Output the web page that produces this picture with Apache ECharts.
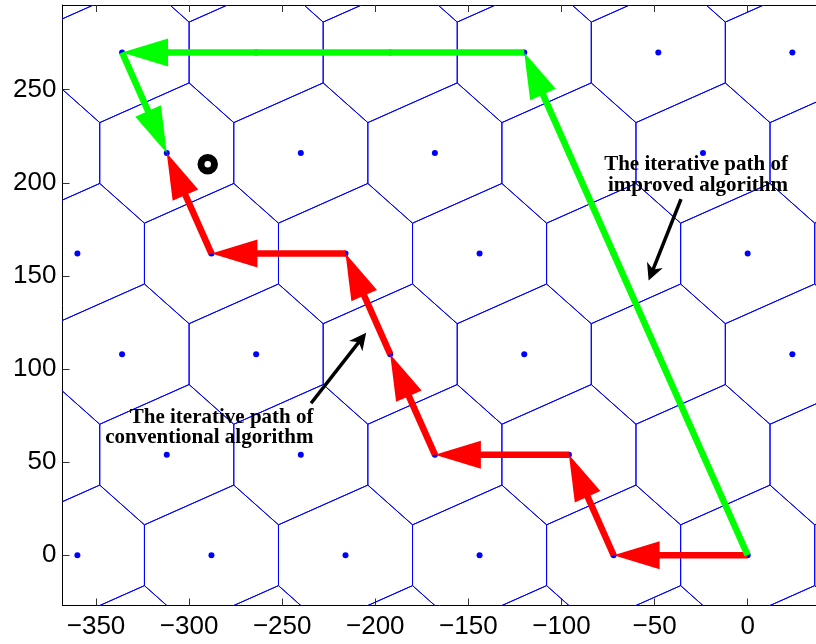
<!DOCTYPE html>
<html>
<head>
<meta charset="utf-8">
<script src="https://cdn.jsdelivr.net/npm/echarts@6/dist/echarts.min.js"></script>
<style>
  html, body { margin: 0; padding: 0; background: #fff; }
  #chart { width: 816px; height: 644px; }
</style>
</head>
<body>
<div id="chart"></div>
<script>
// Tick positions on the two axes
const xTicks = [-350, -300, -250, -200, -150, -100, -50, 0];
const yTicks = [0, 50, 100, 150, 200, 250];

// Lattice generator vectors (used to build the Voronoi cell of a site)
const basisA = [72, 0];
const basisB = [-24, 54];

// Lattice sites, one row per y level
const siteRowY = [-54, 0, 54, 108, 162, 216, 270, 324];
const siteRowX = [
  [-408, -336, -264, -192, -120, -48, 24, 96],
  [-432, -360, -288, -216, -144, -72, 0, 72],
  [-384, -312, -240, -168, -96, -24, 48],
  [-408, -336, -264, -192, -120, -48, 24, 96],
  [-432, -360, -288, -216, -144, -72, 0, 72],
  [-384, -312, -240, -168, -96, -24, 48],
  [-408, -336, -264, -192, -120, -48, 24, 96],
  [-432, -360, -288, -216, -144, -72, 0, 72]
];

// Iterative search paths
const conventionalX = [0, -72, -96, -168, -192, -216, -288, -312];
const conventionalY = [0, 0, 54, 54, 108, 162, 162, 216];
const improvedX = [0, -120, -336, -312];
const improvedY = [0, 270, 270, 216];

// Received (target) point
const targetX = [-290];
const targetY = [210];

// Annotations: text lines, anchor (right end of first baseline), pointer arrows
const noteLines = [
  ['The iterative path of', 'improved algorithm'],
  ['The iterative path of', 'conventional algorithm']
];
const noteAnchorX = [21.6, -233.2];
const noteAnchorY = [206.0, 70.3];
const pointerFromX = [-35.8, -234.5];
const pointerFromY = [191.2, 81.6];
const pointerToX = [-53.2, -204.9];
const pointerToY = [147.5, 119.5];

// ---- derived geometry ----
const sites = [];
siteRowY.forEach((y, r) => siteRowX[r].forEach(x => sites.push([x, y])));

// Voronoi cell of a lattice point: circumcentres of consecutive relevant neighbours
function voronoiCell(a, b) {
  const s = [a[0] + b[0], a[1] + b[1]];
  const nb = [a, s, b, [-a[0], -a[1]], [-s[0], -s[1]], [-b[0], -b[1]]];
  nb.sort((p, q) => Math.atan2(p[1], p[0]) - Math.atan2(q[1], q[0]));
  const verts = [];
  for (let k = 0; k < nb.length; k++) {
    const p = nb[k], q = nb[(k + 1) % nb.length];
    const hp = (p[0] * p[0] + p[1] * p[1]) / 2;
    const hq = (q[0] * q[0] + q[1] * q[1]) / 2;
    const det = p[0] * q[1] - p[1] * q[0];
    verts.push([(hp * q[1] - hq * p[1]) / det, (p[0] * hq - q[0] * hp) / det]);
  }
  return verts;
}
const cell = voronoiCell(basisA, basisB);

function segments(xs, ys) {
  const out = [];
  for (let i = 0; i + 1 < xs.length; i++) out.push([xs[i], ys[i], xs[i + 1], ys[i + 1]]);
  return out;
}

function arrowRenderer(color, width, headLen, headHalf, notch) {
  return function (params, api) {
    const p0 = api.coord([api.value(0), api.value(1)]);
    const p1 = api.coord([api.value(2), api.value(3)]);
    const dx = p1[0] - p0[0], dy = p1[1] - p0[1];
    const L = Math.hypot(dx, dy) || 1;
    const ux = dx / L, uy = dy / L, nx = -uy, ny = ux;
    const bx = p1[0] - ux * headLen, by = p1[1] - uy * headLen;
    const backLen = headLen - notch;
    const kx = p1[0] - ux * backLen, ky = p1[1] - uy * backLen;
    const endX = p1[0] - ux * (backLen - 2), endY = p1[1] - uy * (backLen - 2);
    return {
      type: 'group',
      children: [
        {
          type: 'line',
          shape: { x1: p0[0], y1: p0[1], x2: endX, y2: endY },
          style: { stroke: color, lineWidth: width, lineCap: 'butt' }
        },
        {
          type: 'polygon',
          shape: { points: [[p1[0], p1[1]], [bx + nx * headHalf, by + ny * headHalf], [kx, ky], [bx - nx * headHalf, by - ny * headHalf]] },
          style: { fill: color, stroke: null }
        }
      ]
    };
  };
}

const fmt = v => (v < 0 ? '\u2212' + (-v) : String(v));

const axisLineStyle = { color: '#000', width: 1 };
const tickStyle = { color: '#333', width: 1 };

const X_MIN = -368, X_MAX = 36.7;
const Y_MIN = -27, Y_MAX = 295.5;

const option = {
  animation: false,
  backgroundColor: '#fff',
  grid: { left: 62.5, top: 5, width: 753.5, height: 600.5, containLabel: false },
  xAxis: [
    {
      type: 'value', min: X_MIN, max: X_MAX, position: 'bottom',
      axisLine: { show: true, onZero: false, lineStyle: axisLineStyle },
      axisTick: { show: true, inside: true, length: 7, customValues: xTicks, lineStyle: tickStyle },
      axisLabel: { show: true, customValues: xTicks, formatter: fmt, margin: 8,
        fontFamily: 'Liberation Sans', fontSize: 26, color: '#000' },
      splitLine: { show: false }
    },
    {
      type: 'value', min: X_MIN, max: X_MAX, position: 'top',
      axisLine: { show: true, onZero: false, lineStyle: axisLineStyle },
      axisTick: { show: true, inside: true, length: 7, customValues: xTicks, lineStyle: tickStyle },
      axisLabel: { show: false },
      splitLine: { show: false }
    }
  ],
  yAxis: [
    {
      type: 'value', min: Y_MIN, max: Y_MAX, position: 'left',
      axisLine: { show: true, onZero: false, lineStyle: axisLineStyle },
      axisTick: { show: true, inside: true, length: 7, customValues: yTicks, lineStyle: tickStyle },
      axisLabel: { show: true, customValues: yTicks, formatter: fmt, margin: 6,
        fontFamily: 'Liberation Sans', fontSize: 26, color: '#000' },
      splitLine: { show: false }
    }
  ],
  series: [
    {
      name: 'Voronoi cells',
      type: 'custom',
      clip: true,
      z: 1,
      silent: true,
      data: sites,
      encode: { x: 0, y: 1 },
      renderItem: function (params, api) {
        const sx = api.value(0), sy = api.value(1);
        const pts = cell.map(v => api.coord([sx + v[0], sy + v[1]]));
        return {
          type: 'polygon',
          shape: { points: pts },
          style: { fill: null, stroke: '#0000ff', lineWidth: 1 }
        };
      }
    },
    {
      name: 'Lattice points',
      type: 'scatter',
      z: 2,
      symbol: 'circle',
      symbolSize: 6,
      itemStyle: { color: '#0000ff', opacity: 1 },
      data: sites
    },
    {
      name: 'Conventional path',
      type: 'custom',
      z: 3,
      data: segments(conventionalX, conventionalY),
      encode: { x: [0, 2], y: [1, 3] },
      renderItem: arrowRenderer('#ff0000', 6.5, 46, 14, 0)
    },
    {
      name: 'Improved path',
      type: 'custom',
      z: 4,
      data: segments(improvedX, improvedY),
      encode: { x: [0, 2], y: [1, 3] },
      renderItem: arrowRenderer('#00ff00', 6.5, 46, 14, 0)
    },
    {
      name: 'Target',
      type: 'scatter',
      z: 5,
      symbol: 'circle',
      symbolSize: 13.5,
      itemStyle: { color: '#fff', borderColor: '#000', borderWidth: 7, opacity: 1 },
      data: targetX.map((x, i) => [x, targetY[i]])
    },
    {
      name: 'Pointers',
      type: 'custom',
      z: 6,
      data: pointerFromX.map((x, i) => [x, pointerFromY[i], pointerToX[i], pointerToY[i]]),
      encode: { x: [0, 2], y: [1, 3] },
      renderItem: arrowRenderer('#000', 3.5, 17, 8.5, 5)
    },
    {
      name: 'Notes',
      type: 'custom',
      z: 7,
      data: noteAnchorX.map((x, i) => [x, noteAnchorY[i], i]),
      encode: { x: 0, y: 1 },
      renderItem: function (params, api) {
        const p = api.coord([api.value(0), api.value(1)]);
        const lines = noteLines[api.value(2)];
        return {
          type: 'group',
          children: lines.map((t, i) => ({
            type: 'text',
            style: {
              text: t, x: p[0], y: p[1] - 7 + i * 20.5,
              align: 'right', verticalAlign: 'middle',
              fontFamily: 'Liberation Serif', fontWeight: 'bold', fontSize: 21,
              fill: '#000'
            }
          }))
        };
      }
    }
  ]
};

const chart = echarts.init(document.getElementById('chart'), null, { renderer: 'canvas' });
chart.setOption(option);
</script>
</body>
</html>
